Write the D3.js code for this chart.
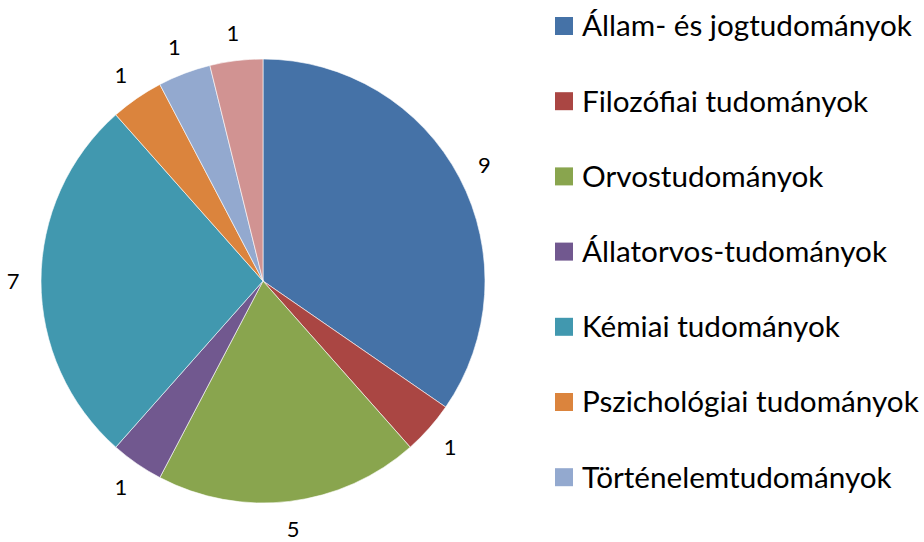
<!DOCTYPE html>
<html>
<head>
<meta charset="utf-8">
<script src="https://cdn.jsdelivr.net/npm/d3@7"></script>
<style>
  body { margin: 0; background: #fff; }
  svg { display: block; }
</style>
</head>
<body>
<svg id="svg1" width="924" height="542"></svg>
<script>
// categories and values, clockwise from 12 o'clock
var categories = ["Állam- és jogtudományok", "Filozófiai tudományok", "Orvostudományok",
    "Állatorvos-tudományok", "Kémiai tudományok", "Pszichológiai tudományok",
    "Történelemtudományok", "Nyelvtudományok"];
var values = [9, 1, 5, 1, 7, 1, 1, 1];
var colors = ["#4572A7", "#AA4643", "#89A54E", "#71588F", "#4198AF", "#DB843D", "#93A9CF", "#D19392"];
// the legend in the original only fits the first seven entries
var legendCount = 7;

var data = categories.map(function(c, i) { return {name: c, value: values[i]}; });

var svg = d3.select('#svg1');
var font = "Lato, 'Liberation Sans', sans-serif";

var colorScale = d3.scaleOrdinal().domain(categories).range(colors);

var cx = 263, cy = 281, radius = 222, labelRadius = 250;

var pie = d3.pie().sort(null).value(function(d) { return d.value; });
var arc = d3.arc().innerRadius(0).outerRadius(radius);
var labelArc = d3.arc().innerRadius(labelRadius).outerRadius(labelRadius);

var g = svg.append('g').attr('transform', 'translate(' + cx + ',' + cy + ')');

var slices = g.selectAll('g.slice')
    .data(pie(data))
    .enter().append('g').attr('class', 'slice');

slices.append('path')
    .attr('d', arc)
    .style('fill', function(d) { return colorScale(d.data.name); })
    .style('stroke', '#fff')
    .style('stroke-width', 0.6);

slices.append('text')
    .attr('transform', function(d) { return 'translate(' + labelArc.centroid(d) + ')'; })
    .attr('text-anchor', 'middle')
    .attr('dy', '0.36em')
    .style('font-family', font)
    .style('font-size', '22px')
    .style('fill', '#000')
    .text(function(d) { return d.data.value; });

// legend
var legend = svg.append('g').attr('transform', 'translate(555,0)');
var item = legend.selectAll('g')
    .data(categories.slice(0, legendCount))
    .enter().append('g')
    .attr('transform', function(d, i) { return 'translate(0,' + (26 + i * 75.2) + ')'; });

item.append('rect')
    .attr('x', 0).attr('y', -9)
    .attr('width', 18).attr('height', 18)
    .style('fill', function(d) { return colorScale(d); });

var labels = item.append('text')
    .attr('x', 27)
    .attr('dy', '0.35em')
    .style('font-family', font)
    .style('font-size', '28px')
    .style('fill', '#000')
    .text(function(d) { return d; });

// fit the font so the first entry is about as wide as in the original
var w = labels.node().getComputedTextLength();
var fs = 28 * 330 / w;
labels.style('font-size', fs + 'px');
</script>
</body>
</html>
